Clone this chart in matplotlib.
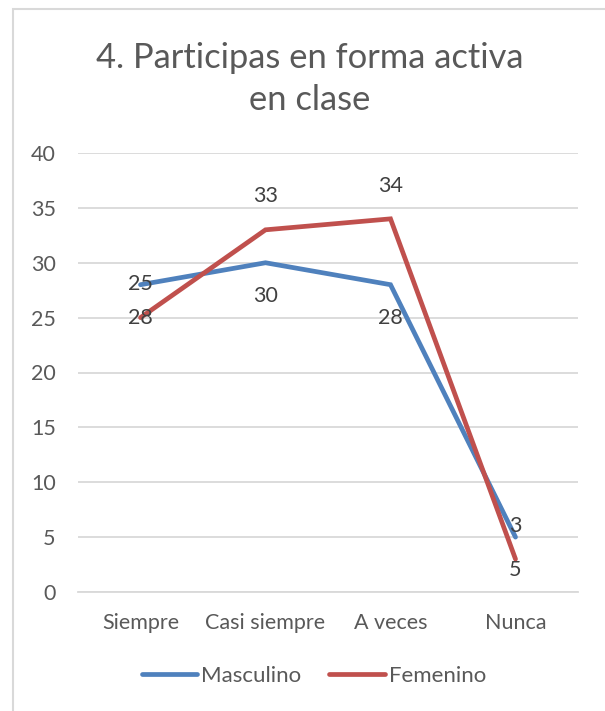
import matplotlib.pyplot as plt
from matplotlib.patches import Rectangle

plt.rcParams["font.family"] = ["Lato", "DejaVu Sans"]

categories = ["Siempre", "Casi siempre", "A veces", "Nunca"]
masculino = [28, 30, 28, 5]
femenino = [25, 33, 34, 3]
y_ticks = [0, 5, 10, 15, 20, 25, 30, 35, 40]

BLUE = "#4F81BD"
RED = "#C0504D"
GRID = "#D9D9D9"
TEXT = "#595959"
LABEL = "#404040"


def main() -> None:
    fig = plt.figure(figsize=(6.05, 7.11), dpi=100)
    W, H = 605, 711

    # chart frame (runs off the right and bottom of the picture)
    fig.patches.append(Rectangle((13 / W, -0.05), 1.0, 1 - 9 / H + 0.05,
                                 transform=fig.transFigure, fill=False,
                                 edgecolor="#D9D9D9", linewidth=1.5))

    ax = fig.add_axes([78 / W, 1 - 592 / H, 500 / W, 439 / H])
    x = list(range(len(categories)))

    ax.plot(x, masculino, color=BLUE, linewidth=3.4, label="Masculino",
            solid_joinstyle="miter", solid_capstyle="round")
    ax.plot(x, femenino, color=RED, linewidth=3.4, label="Femenino",
            solid_joinstyle="miter", solid_capstyle="round")

    for i, v in enumerate(masculino):
        ax.annotate(str(v), (i, v), xytext=(0, -24), textcoords="offset points",
                    ha="center", va="center", fontsize=15.5, color=LABEL)
    for i, v in enumerate(femenino):
        ax.annotate(str(v), (i, v), xytext=(0, 24), textcoords="offset points",
                    ha="center", va="center", fontsize=15.5, color=LABEL)

    ax.set_xlim(-0.5, 3.5)
    ax.set_ylim(0, 40)
    ax.set_yticks(y_ticks)
    ax.set_xticks(x)
    ax.set_xticklabels(categories)
    ax.grid(axis="y", color=GRID, linewidth=1.3)
    ax.set_axisbelow(True)
    for side in ["top", "right", "left"]:
        ax.spines[side].set_visible(False)
    ax.spines["bottom"].set_color(GRID)
    ax.spines["bottom"].set_linewidth(1.3)
    ax.tick_params(axis="both", length=0, labelsize=15.5, colors=TEXT)
    ax.tick_params(axis="y", pad=16)
    ax.tick_params(axis="x", pad=15)

    fig.text(310 / W, 1 - 79 / H, "4. Participas en forma activa\nen clase",
             ha="center", va="center", fontsize=24.8, color=TEXT,
             linespacing=1.42)

    fig.legend(loc="center", bbox_to_anchor=(314 / W, 1 - 676 / H), ncol=2,
               frameon=False, fontsize=16, labelcolor=TEXT, handlelength=2.5,
               handletextpad=0.18, columnspacing=1.26)

    fig.savefig("out.png", dpi=100)


if __name__ == "__main__":
    main()
